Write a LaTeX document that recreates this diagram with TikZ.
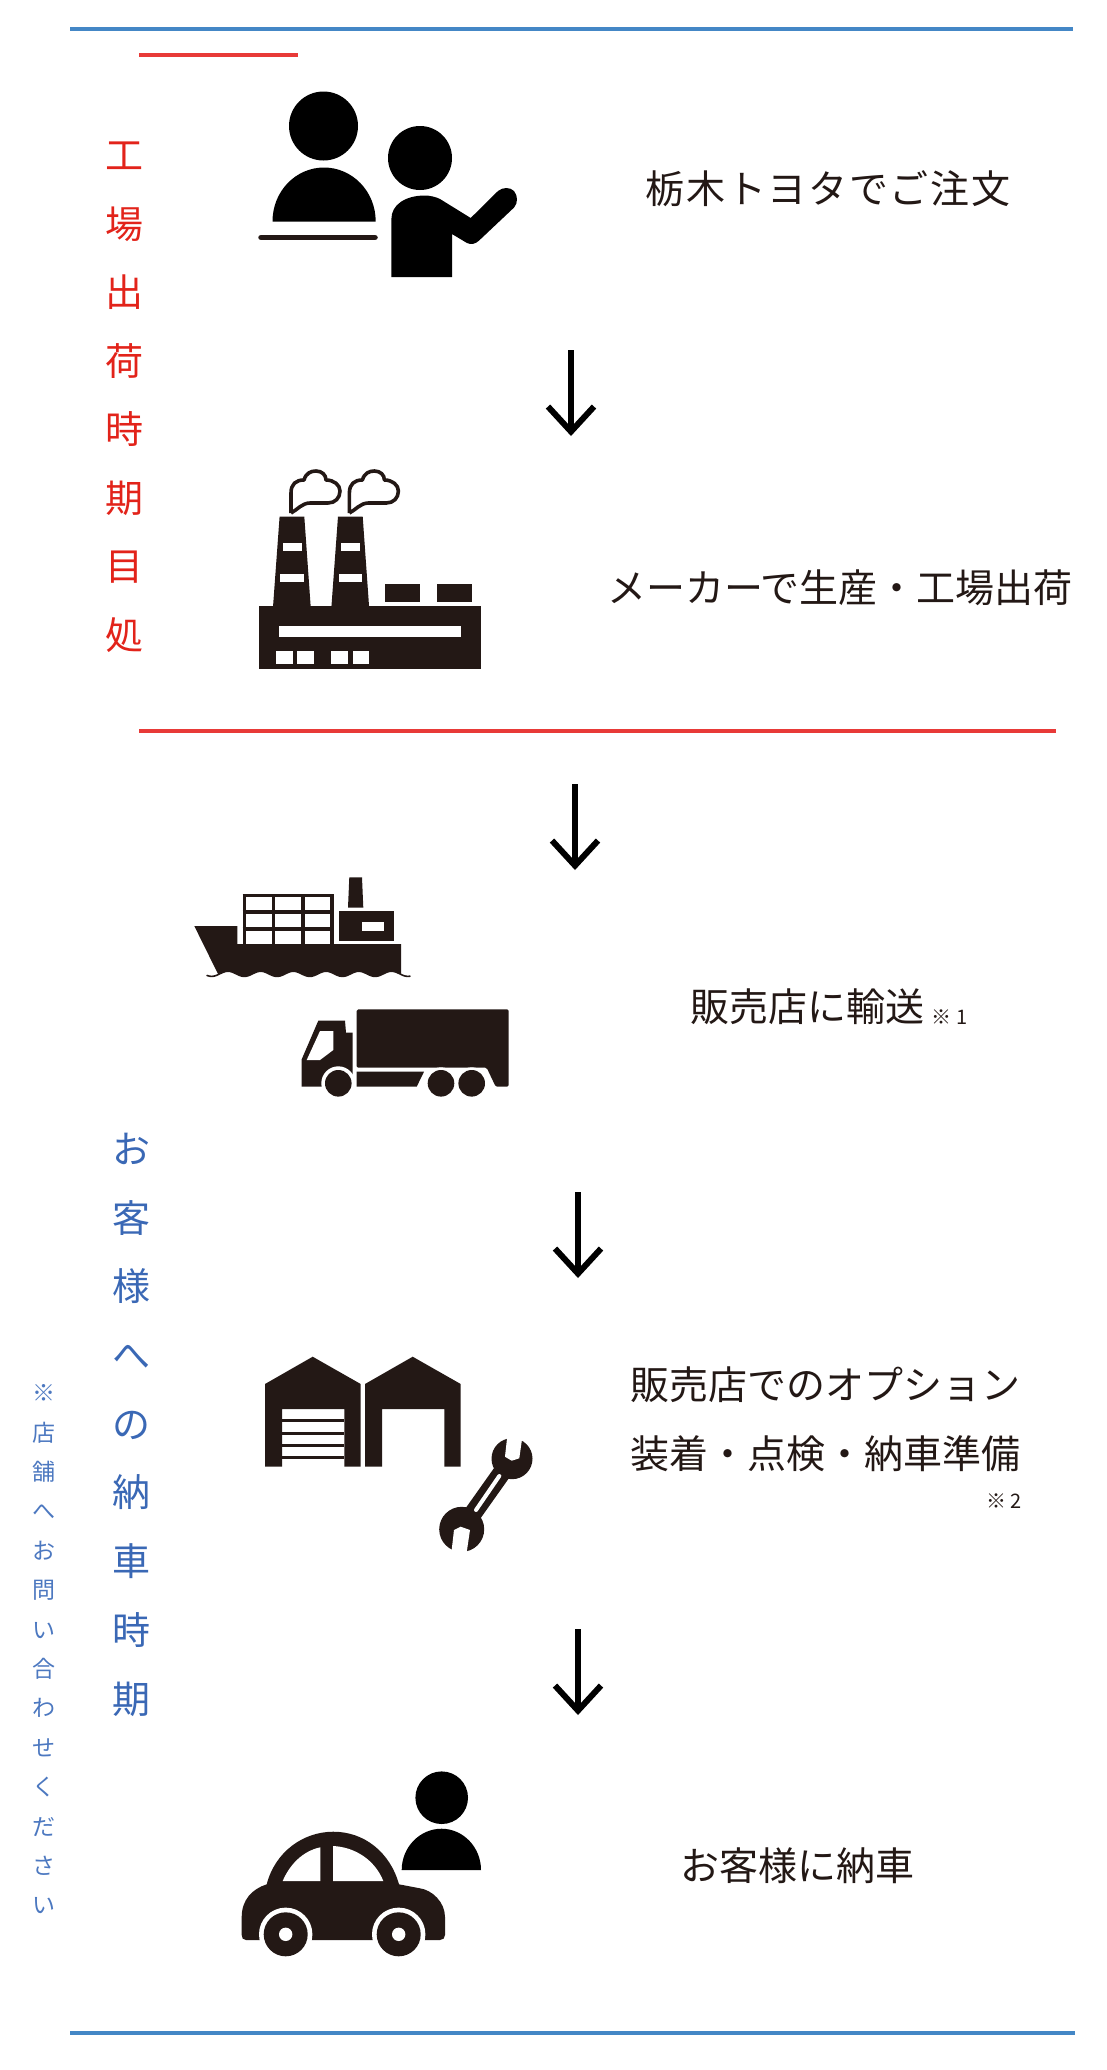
\documentclass[tikz,border=0pt]{standalone}
\usepackage{fontspec}
\setmainfont{Noto Sans CJK JP}
\newfontfamily\widefont[LetterSpace=4.2]{Noto Sans CJK JP}
\usetikzlibrary{arrows.meta}
\definecolor{inkdark}{HTML}{231815}
\definecolor{rulered}{HTML}{E83A38}
\definecolor{ruleblue}{HTML}{4487C6}
\definecolor{textred}{HTML}{E2231A}
\definecolor{textblue}{HTML}{3A68B5}
\definecolor{noteblue}{HTML}{4C78C0}
\begin{document}
\begin{tikzpicture}[x=1pt,y=-1pt,
		rulebar/.style={line width=4pt},
		flow/.style={draw=black,line width=5.5pt,-{Straight Barb[length=25pt,width=46pt,line width=6pt]}},
		steptext/.style={inner sep=0pt,text height=34.3pt,text depth=4.7pt,text=inkdark,font=\fontsize{39pt}{39pt}\selectfont},
		notetext/.style={inner sep=0pt,text height=17.6pt,text depth=2.4pt,text=inkdark,font=\fontsize{20pt}{20pt}\selectfont},
		redtext/.style={inner sep=0pt,text height=33.4pt,text depth=4.6pt,text=textred,font=\fontsize{38pt}{38pt}\selectfont},
		bluetext/.style={inner sep=0pt,text height=33.4pt,text depth=4.6pt,text=textblue,font=\fontsize{38pt}{38pt}\selectfont},
		smalltext/.style={inner sep=0pt,text height=20.2pt,text depth=2.8pt,text=noteblue,font=\fontsize{23pt}{23pt}\selectfont}]
	\useasboundingbox (0,0) rectangle (1106,2070);
	
	% Rules
	\draw[rulebar,ruleblue] (70,28.5) -- (1073,28.5);
	\draw[rulebar,ruleblue] (70,2033) -- (1075,2033);
	\draw[rulebar,rulered] (139,55) -- (298,55);
	\draw[rulebar,rulered] (139,731) -- (1056,731);
	
	% Side labels
	\foreach \ch [count=\i from 0] in {工,場,出,荷,時,期,目,処}{
		\node[redtext] (red\i) at (124.5,{155.5+68.5*\i}) {\ch};
	}
	\foreach \ch [count=\i from 0] in {お,客,様,へ,の,納,車,時,期}{
		\node[bluetext] (blue\i) at (131.5,{1149+68.7*\i}) {\ch};
	}
	\foreach \ch [count=\i from 0] in {※,店,舗,へ,お,問,い,合,わ,せ,く,だ,さ,い}{
		\node[smalltext] (note\i) at (44,{1393+39.4*\i}) {\ch};
	}
	
	% Step labels
	\node[steptext,font=\fontsize{39pt}{39pt}\widefont] (order) at (828,189) {栃木トヨタでご注文};
	\node[steptext] (maker) at (840,588) {メーカーで生産・工場出荷};
	\node[steptext] (ship) at (807.5,1006.5) {販売店に輸送};
	\node[notetext] (shipnote) at (949.5,1017) {※ 1};
	\node[steptext] (option) at (825.5,1384.5) {販売店でのオプション};
	\node[steptext] (fitting) at (825.5,1454) {装着・点検・納車準備};
	\node[notetext] (fitnote) at (1004,1500.5) {※ 2};
	\node[steptext] (deliver) at (797,1866) {お客様に納車};
	
	% Arrows
	\foreach \name/\ax/\ay/\by in {one/571/350/436,two/575/784/870,three/578/1192/1278,four/578/1629/1715}{
		\coordinate (\name start) at (\ax,\ay);
		\coordinate (\name end) at (\ax,\by);
		\draw[flow] (\name start) -- (\name end);
	}
	
	% Customer and clerk
	\fill[black] (323.5,126) circle (34.5);
	\fill[black] (272.5,221.5) .. controls (272.5,191) and (296,167.5) .. (324,167.5) .. controls (352,167.5) and (375.7,191) .. (375.7,221.5) -- cycle;
	\draw[inkdark,line width=5.5pt,line cap=round] (261,237.5) -- (375,237.5);
	\fill[black] (420,158) circle (32);
	\fill[black] (391.4,277) -- (391.4,218.8) .. controls (391.4,205) and (405,195.5) .. (425,195.5) .. controls (430,195.5) and (436,197) .. (440,199) -- (470.7,218) -- (498,191) .. controls (503,187) and (510,187) .. (514,191) .. controls (518,196) and (518,203) .. (514,207.6) -- (478.6,241) .. controls (475,244) and (471,245) .. (467,243) -- (452,234) -- (452,277) -- cycle;
	
	% Factory
	\fill[inkdark] (259,606) rectangle (481.4,669);
	\fill[white] (278.6,626.3) rectangle (461,636.6);
	\foreach \bx in {276,297,331,352.5}{
		\fill[white] (\bx,651.3) rectangle ++(16.5,13);
	}
	\fill[inkdark] (384.6,584) rectangle (419.6,602);
	\fill[inkdark] (436.8,584) rectangle (471.8,602);
	\foreach \dx in {0,58.4}{
		\begin{scope}[shift={(\dx,0)}]
			\fill[inkdark] (279.6,516.5) -- (304.3,516.5) -- (310.7,607) -- (273,607) -- cycle;
			\fill[white] (282.5,543) rectangle (301.8,551);
			\fill[white] (280.4,573.7) rectangle (304,581.7);
			\draw[inkdark,line width=3.6pt,line join=round] (291,513) -- (291,493) .. controls (291,484) and (296,480) .. (304,480) .. controls (306,473) and (311,471) .. (316,471) .. controls (322,471) and (326,475) .. (326,480) .. controls (334,480) and (340,485) .. (340,491) .. controls (340,498) and (335,503) .. (328,503) -- (310,503) .. controls (302,503) and (297,510) .. (291,513);
		\end{scope}
	}
	
	% Ship
	\fill[inkdark] (194.3,926) -- (237.3,926) -- (237.3,944) -- (401,944) -- (401,970) -- plot[domain=401:218.3,samples=80] (\x,{973.8-2.6*cos((\x-228)/32.7*360)}) -- cycle;
	\draw[inkdark,line width=1.6pt,line cap=round] plot[domain=207:410,samples=90] (\x,{973.8-2.6*cos((\x-228)/32.7*360)});
	\foreach \gx in {244.3,273.7,303,332}{
		\draw[inkdark,line width=3.2pt] (\gx,894) -- (\gx,944);
	}
	\foreach \gy in {895.3,912,929}{
		\draw[inkdark,line width=3.2pt] (242.7,\gy) -- (333.7,\gy);
	}
	\fill[inkdark] (339,911.3) rectangle (394.3,940.7);
	\fill[white] (362.3,921.7) rectangle (384,930.7);
	\fill[inkdark] (349.3,877.3) -- (362,877.3) -- (363.3,907.7) -- (348,907.7) -- cycle;
	
	% Truck
	\fill[inkdark,rounded corners=1.5pt] (356.7,1009.3) -- (508.7,1009.3) -- (508.7,1086.7) -- (495.7,1086.7) -- (486.7,1067.7) -- (356.7,1067.7) -- cycle;
	\fill[inkdark] (356.7,1071.7) -- (424,1071.7) -- (416.7,1086.7) -- (356.7,1086.7) -- cycle;
	\fill[inkdark] (318.3,1020.7) -- (345,1020.7) -- (346,1032.7) -- (352.7,1032.7) -- (352.7,1086.7) -- (301.7,1086.7) -- (301.7,1059.3) -- cycle;
	\fill[white] (320,1031) -- (333.3,1031) -- (333.3,1050) -- (320,1060) -- (306.7,1060) -- cycle;
	\foreach \wx/\wr in {338.3/17,441/16,471.7/16}{
		\fill[white] (\wx,1083.3) circle (\wr);
	}
	\foreach \wx in {338.3,441,471.7}{
		\fill[inkdark] (\wx,1083.3) circle (13.3);
	}
	
	% Garages
	\foreach \dx in {0,100}{
		\fill[inkdark,shift={(\dx,0)}] (265,1384) -- (312.7,1356.7) -- (360.7,1384) -- (360.7,1466.7) -- (344.3,1466.7) -- (344.3,1409) -- (282,1409) -- (282,1466.7) -- (265,1466.7) -- cycle;
	}
	\foreach \sy in {1419.3,1431.7,1444,1456.3}{
		\fill[inkdark] (282,\sy) rectangle (344.3,\sy+3);
	}
	
	% Wrench
	\draw[inkdark,line width=18pt] (461.7,1529.3) -- (511.7,1458.7);
	\fill[inkdark] (461.7,1529.3) circle (22.5);
	\fill[inkdark] (512,1458.7) circle (20.5);
	\fill[white] (451,1556) -- (454,1530) -- (460.7,1526.7) -- (470,1530) -- (466,1557) -- cycle;
	\fill[white] (507.6,1433) -- (505,1456.7) -- (511.7,1460.7) -- (519.3,1458.3) -- (522.6,1435) -- cycle;
	\draw[white,line width=4pt,line cap=round] (476,1510) -- (499.3,1476);
	
	% Car
	\fill[inkdark] (241.7,1935) -- (241.7,1917) .. controls (241.7,1900) and (252,1889) .. (266.7,1884.3) .. controls (275,1852) and (303,1831.7) .. (333.3,1831.7) .. controls (364,1831.7) and (390,1852) .. (399,1884.3) -- (420,1888.3) .. controls (432,1890) and (445,1902) .. (445,1917) -- (445,1935) .. controls (445,1938) and (443,1940) .. (440,1940) -- (246,1940) .. controls (243,1940) and (241.7,1938) .. (241.7,1935) -- cycle;
	\fill[white] (282.7,1881) .. controls (290,1864) and (303,1851) .. (320.3,1847.3) -- (320.3,1881) -- cycle;
	\fill[white] (333,1846) .. controls (355,1847) and (375,1860) .. (383.3,1881) -- (333,1881) -- cycle;
	\foreach \wx in {285.7,398.7}{
		\fill[white] (\wx,1934.3) circle (26.7);
		\fill[inkdark] (\wx,1934.3) circle (22);
		\fill[white] (\wx,1934.3) circle (6.7);
	}
	
	% Customer
	\fill[black] (441.7,1797.7) circle (26.3);
	\fill[black] (401.7,1870) .. controls (401.7,1847) and (420,1828.7) .. (441.5,1828.7) .. controls (463,1828.7) and (481,1847) .. (481,1870) -- cycle;
\end{tikzpicture}
\end{document}
